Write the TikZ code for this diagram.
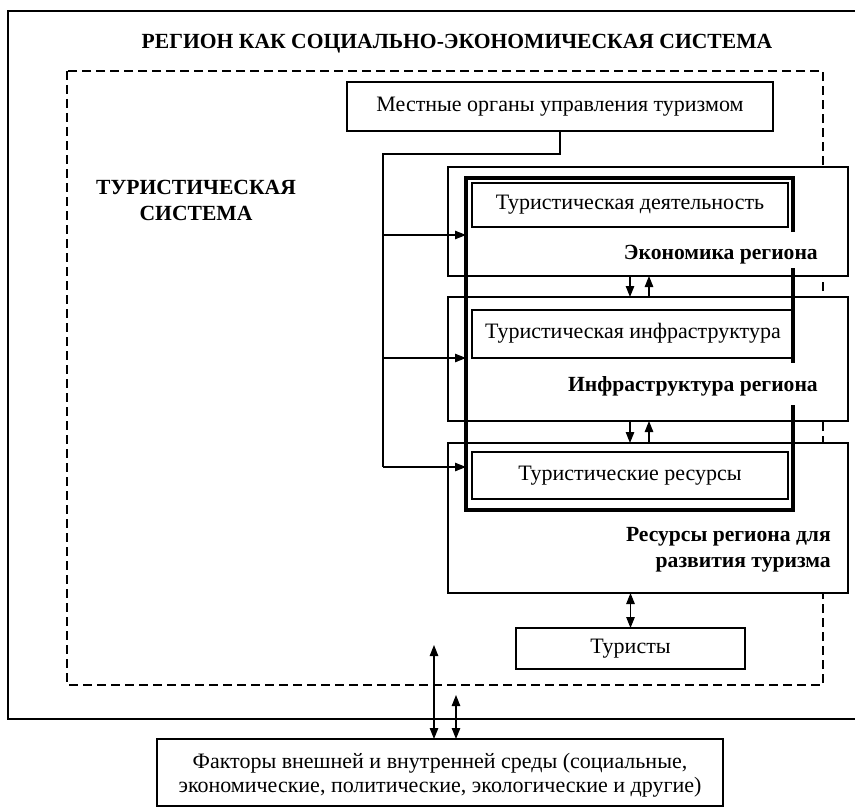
\documentclass[tikz,border=0pt]{standalone}
\usepackage{fontspec}
\setmainfont{Liberation Serif}
\usetikzlibrary{arrows.meta}
\begin{document}
\begin{tikzpicture}[x=1pt,y=-1pt,
  thin/.style={line width=1.1pt},
  box/.style={draw, thin, anchor=north west, inner sep=0pt, outer sep=0pt},
  txt/.style={font=\fontsize{22}{24}\selectfont, inner sep=0pt},
  btxt/.style={font=\fontsize{21.6}{26}\selectfont\bfseries, inner sep=0pt},
  arr/.style={thin, -{Triangle[length=11pt,width=8.5pt]}},
  darr/.style={thin, {Triangle[length=11pt,width=8.5pt]}-{Triangle[length=11pt,width=8.5pt]}},
  core/.style={line width=4pt}
]
\useasboundingbox (0,0) rectangle (855,808);
% outer region
\draw[thin] (860,11) -- (8,11) -- (8,719) -- (860,719);
\node[btxt] (title) at (457,44) {РЕГИОН КАК СОЦИАЛЬНО-ЭКОНОМИЧЕСКАЯ СИСТЕМА};
% tourist system (dashed)
\draw[line width=1.6pt, dash pattern=on 9pt off 5pt] (67,71) rectangle (823,685);
\node[btxt, align=center] (ts) at (196,200) {ТУРИСТИЧЕСКАЯ\\СИСТЕМА};
% local authorities
\node[box, minimum width=426pt, minimum height=49pt] (loc) at (347,82) {};
\node[txt] at (loc.center) {Местные органы управления туризмом};
% region boxes
\node[box, fill=white, minimum width=400pt, minimum height=109pt] (eco) at (448,167) {};
\node[box, fill=white, minimum width=400pt, minimum height=124pt] (inf) at (448,297) {};
\node[box, fill=white, minimum width=400pt, minimum height=150pt] (res) at (448,443) {};
% inner boxes
\node[box, minimum width=316pt, minimum height=44pt] (td) at (472,183) {};
\node[txt] at (td.center) {Туристическая деятельность};
\node[box, minimum width=321pt, minimum height=48pt] (ti) at (472,310) {};
\node[txt] at (633,333) {Туристическая инфраструктура};
\node[box, minimum width=316pt, minimum height=47pt] (tr) at (472,452) {};
\node[txt] at (tr.center) {Туристические ресурсы};
% core (thick) box
\node[anchor=north west, inner sep=0pt, outer sep=0pt, minimum width=327pt, minimum height=332pt] (core) at (466,178) {};
\draw[core] ([yshift=-54pt]core.north east) -- (core.north east) -- (core.north west) -- (core.south west) -- (core.south east) -- ([yshift=105pt]core.south east);
\draw[core] ([yshift=-90pt]core.north east) -- ([yshift=-185pt]core.north east);
% region labels
\node[btxt, anchor=east] at (818,255) {Экономика региона};
\node[btxt, anchor=east] at (818,386) {Инфраструктура региона};
\node[btxt, anchor=east, align=right] at (831,550) {Ресурсы региона для\\развития туризма};
% tourists
\node[box, minimum width=229pt, minimum height=41pt] (tour) at (516,628) {};
\node[txt] at (tour.center) {Туристы};
% factors
\node[box, minimum width=566pt, minimum height=67pt] (fac) at (157,739) {};
\node[txt, align=center] at (440,775) {Факторы внешней и внутренней среды (социальные,\\экономические, политические, экологические и другие)};
% connectors from local authorities
\coordinate (tb) at (383,467);
\draw[thin] (loc.south) -- ++(0,23) -| (tb);
\draw[arr] (tb |- 0,235) -- (core.west |- 0,235);
\draw[arr] (tb |- 0,358) -- (core.west |- 0,358);
\draw[arr] (tb) -- (core.west |- tb);
% between region boxes
\coordinate (dx) at (630,0);
\coordinate (ux) at (649,0);
\draw[arr] (eco.south -| dx) -- (inf.north -| dx);
\draw[arr] (inf.north -| ux) -- (eco.south -| ux);
\draw[arr] (inf.south -| dx) -- (res.north -| dx);
\draw[arr] (res.north -| ux) -- (inf.south -| ux);
% resources <-> tourists
\draw[darr] (res.south -| tour.north) -- (tour.north);
% external factors
\coordinate (fa) at (434,645);
\coordinate (fb) at (456,695);
\draw[darr] (fa) -- (fac.north -| fa);
\draw[darr] (fb) -- (fac.north -| fb);
\end{tikzpicture}
\end{document}
